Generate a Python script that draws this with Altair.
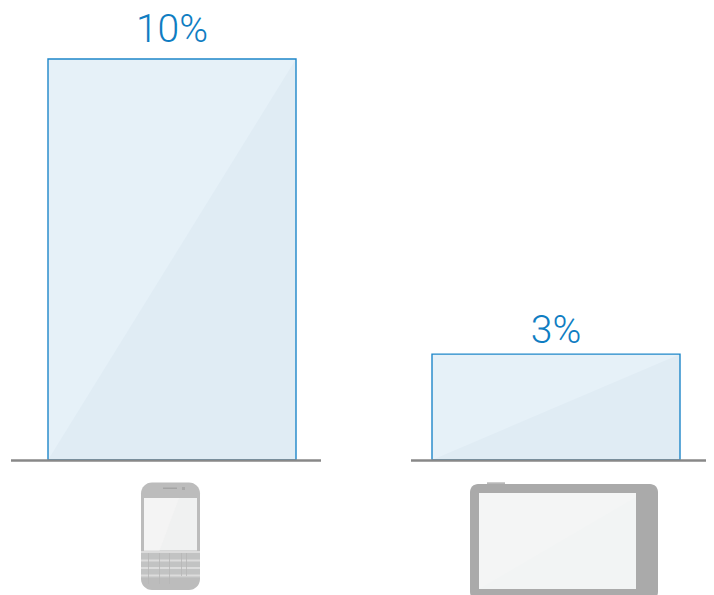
import altair as alt
import pandas as pd

# Values
labels = ["10%", "3%"]
bar_values = [10.0, 2.64]
label_anchor = [10.42, 2.92]
bar_left = [48, 432]
bar_right = [296, 680]
label_center = [172, 556]
base_left = [11, 411]
base_right = [321, 714]

# Device icons (picture units): x, x2, y, y2, colour
phone_parts = [
    [141, 200, 482.5, 590, "#bcbcbc"],
    [141, 200, 552, 578, "#c2c3c3"],
    [144, 197, 498, 550.5, "#f0f1f1"],
    [163, 177, 487.5, 489, "#a4a4a4"],
    [182, 185, 487, 490, "#a8a8a8"],
    [141, 200, 551, 553, "#dcdcdc"],
    [141, 200, 559.5, 561.5, "#dcdcdc"],
    [141, 200, 567, 569, "#dcdcdc"],
    [141, 200, 574.5, 576.5, "#dcdcdc"],
    [148, 148.8, 553, 584, "#b6b6b6"],
    [159, 159.8, 553, 584, "#b6b6b6"],
    [169, 169.8, 553, 584, "#b6b6b6"],
    [181, 181.8, 553, 576, "#b6b6b6"],
    [186, 186.8, 553, 576, "#b6b6b6"],
]
tablet_parts = [
    [487, 505, 482.3, 485, "#b8b8b8"],
]
tablet_body = [[470, 658, 484, 600, "#aaaaaa"]]
tablet_screen = [[479, 636, 493, 589, "#f4f5f5"]]

cols = ["x", "x2", "y", "y2", "c"]
x_scale = alt.Scale(domain=[8, 706], nice=False, zero=False, clamp=True)
pct_scale = alt.Scale(domain=[-3.367, 11.272], nice=False, zero=False)
px_scale = alt.Scale(domain=[595, 8], nice=False, zero=False)
X = lambda f: alt.X(f, type="quantitative", scale=x_scale, axis=None)
YP = lambda f: alt.Y(f, type="quantitative", scale=pct_scale, axis=None)
YD = lambda f: alt.Y(f, type="quantitative", scale=px_scale, axis=None)

bars = pd.DataFrame({"x": bar_left, "x2": bar_right, "v": bar_values, "z": [0, 0],
                     "label": labels, "at": label_anchor, "cx": label_center})

bar_fill = alt.Chart(bars).mark_rect(color="#e6f1f8").encode(
    x=X("x"), x2="x2", y=YP("v"), y2="z")

shades = []
for i in range(len(labels)):
    d = pd.DataFrame({"x": [bar_left[i], bar_right[i]], "v": [0, bar_values[i]], "z": [0, 0]})
    shades.append(alt.Chart(d).mark_area(color="#e0ecf4").encode(x=X("x"), y=YP("v"), y2="z"))

bar_line = alt.Chart(bars).mark_rect(fillOpacity=0, stroke="#1e87c9", strokeWidth=1.4).encode(
    x=X("x"), x2="x2", y=YP("v"), y2="z")

text = alt.Chart(bars).mark_text(font="Roboto", fontWeight=300, fontSize=39, color="#0f7dc2",
                                 baseline="alphabetic", align="center").encode(
    x=X("cx"), y=YP("at"), text="label")

base = alt.Chart(pd.DataFrame({"x": base_left, "x2": base_right, "z": [-0.012, -0.012]})).mark_rule(
    color="#888888", strokeWidth=2.5).encode(x=X("x"), x2="x2", y=YP("z"))

def rects(rows, **kw):
    return alt.Chart(pd.DataFrame(rows, columns=cols)).mark_rect(clip=True, **kw).encode(
        x=X("x"), x2="x2", y=YD("y"), y2="y2",
        color=alt.Color("c", type="nominal", scale=None, legend=None))

phone_body = rects(phone_parts[:1], cornerRadius=11)
phone_rest = rects(phone_parts[1:])
phone_glare = alt.Chart(pd.DataFrame({"x": [144, 159.5, 179], "y": [550.5, 550.5, 498], "y2": [498, 498, 498]})).mark_area(
    color="#f4f4f4").encode(x=X("x"), y=YD("y"), y2="y2")
t_btn = rects(tablet_parts)
t_body = rects(tablet_body, cornerRadius=8)
t_screen = rects(tablet_screen)
t_glare = alt.Chart(pd.DataFrame({"x": [479, 636], "y": [589, 589], "y2": [589, 497]})).mark_area(
    color="#f2f4f4").encode(x=X("x"), y=YD("y"), y2="y2")

left = alt.layer(bar_fill, *shades, bar_line, base, text)
right = alt.layer(phone_body, phone_rest, phone_glare, t_btn, t_body, t_screen, t_glare)

chart = alt.layer(left, right).resolve_scale(y="independent", x="shared", color="independent").properties(
    width=698, height=587, padding=0, autosize=alt.AutoSizeParams(type="none")
).configure_view(stroke=None)

chart.save("out.html", embed_options={"renderer": "svg", "actions": False})
